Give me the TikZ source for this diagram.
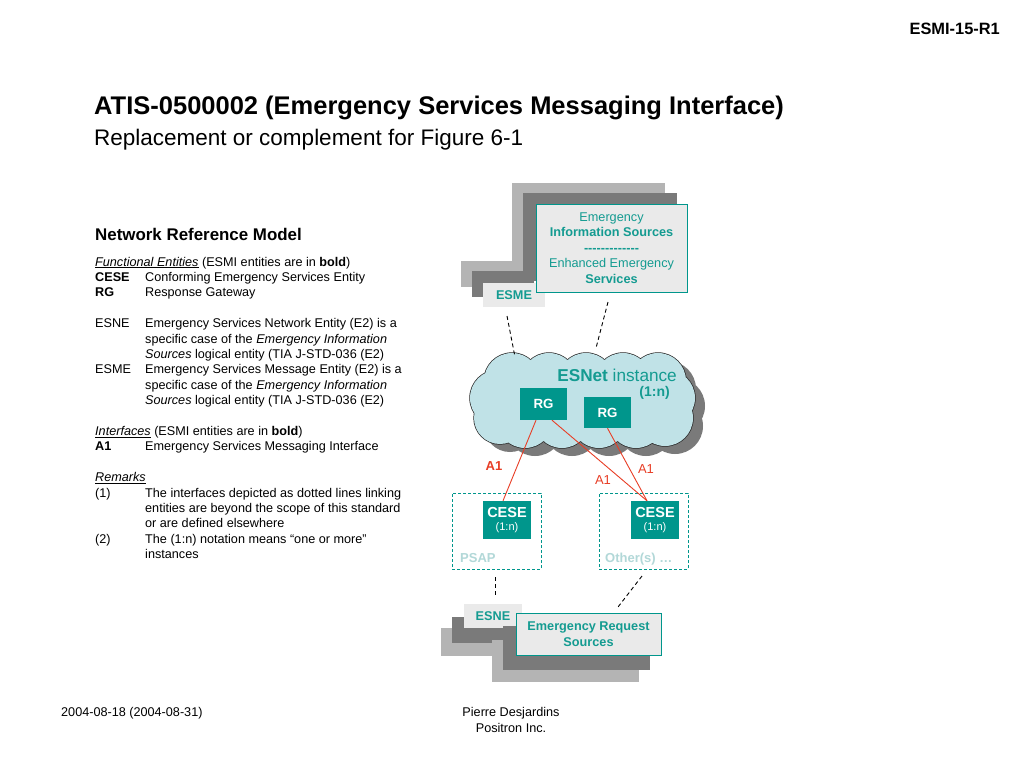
\documentclass[tikz,border=0pt]{standalone}
\usepackage{fontspec}
\setmainfont{Liberation Sans}
\definecolor{esmiteal}{RGB}{0,150,140}
\definecolor{esmitext}{RGB}{20,155,145}
\definecolor{paleteal}{RGB}{178,216,216}
\definecolor{boxgray}{RGB}{234,234,234}
\definecolor{layerlight}{RGB}{180,180,180}
\definecolor{layerdark}{RGB}{122,122,122}
\definecolor{cloudblue}{RGB}{192,226,231}
\definecolor{aonered}{RGB}{232,62,38}
\newcommand{\esmibody}{\fontsize{12.65}{15.4}\selectfont}
\newcommand{\esmibox}{\fontsize{12.7}{15.5}\selectfont}
\newcommand{\sepdashes}{\foreach \i in {1,...,13}{-\kern0pt}}
\newcommand{\esnetcore}{(500,385) rectangle (665,420)}
\newcommand{\esnetpuffs}{%
  \foreach \cx/\cy/\r in {512/381/28,549/381/28,586/381/28,623/381/28,658/381/28,
    498/398/28,500/418/26,525/420/28,562/420/28,599/420/28,636/420/28,665/418/28,667/398/28}
  {(\cx,\cy) circle (\r pt)}}

\begin{document}
\begin{tikzpicture}[x=1pt,y=-1pt,
  box/.style={draw=esmiteal,fill=boxgray,line width=0.9pt,inner sep=0pt,text=esmitext,font=\esmibox,align=center},
  tag/.style={fill=boxgray,inner sep=0pt,text=esmitext,font=\esmibox\bfseries},
  backlayer/.style={fill=layerlight,inner sep=0pt},
  midlayer/.style={fill=layerdark,inner sep=0pt},
  entity/.style={fill=esmiteal,text=white,inner sep=0pt,align=center},
  zonebox/.style={draw=esmiteal,dash pattern=on 3pt off 2pt,line width=0.9pt,inner sep=0pt},
  zonelabel/.style={anchor=base west,inner sep=0pt,text=paleteal,font=\fontsize{13}{15}\selectfont\bfseries},
  aone/.style={draw=aonered,line width=0.9pt},
  aonelabel/.style={text=aonered,inner sep=0pt,font=\fontsize{13}{15}\selectfont},
  outside/.style={dash pattern=on 4pt off 3pt,line width=0.9pt}]
\useasboundingbox[fill=white] (0,0) rectangle (1024,768);

\node[anchor=base east,inner sep=0pt,font=\fontsize{16.4}{19}\selectfont\bfseries] (docid) at (1000,35) {ESMI-15-R1};
\node[anchor=base west,inner sep=0pt,font=\fontsize{25.5}{28}\selectfont\bfseries] (title) at (94,114) {ATIS-0500002 (Emergency Services Messaging Interface)};
\node[anchor=base west,inner sep=0pt,font=\fontsize{22.5}{26}\selectfont] (subtitle) at (94,145) {Replacement or complement for Figure 6-1};

\node[anchor=base west,inner sep=0pt,font=\fontsize{16.9}{20}\selectfont\bfseries] (nrm) at (95,240) {Network Reference Model};
\node[anchor=base west,inner sep=0pt,font=\esmibody] (legend) at (95,266) {%
\begin{tabular}[t]{@{}p{50pt}@{}l@{}}
\multicolumn{2}{@{}l@{}}{\underline{\textit{Functional Entities}} (ESMI entities are in \textbf{bold})}\\
\textbf{CESE} & Conforming Emergency Services Entity\\
\textbf{RG} & Response Gateway\\
 & \\
ESNE & Emergency Services Network Entity (E2) is a\\
 & specific case of the \textit{Emergency Information}\\
 & \textit{Sources} logical entity (TIA J-STD-036 (E2)\\
ESME & Emergency Services Message Entity (E2) is a\\
 & specific case of the \textit{Emergency Information}\\
 & \textit{Sources} logical entity (TIA J-STD-036 (E2)\\
 & \\
\multicolumn{2}{@{}l@{}}{\underline{\textit{Interfaces}} (ESMI entities are in \textbf{bold})}\\
\textbf{A1} & Emergency Services Messaging Interface\\
 & \\
\multicolumn{2}{@{}l@{}}{\underline{\textit{Remarks}}}\\
(1) & The interfaces depicted as dotted lines linking\\
 & entities are beyond the scope of this standard\\
 & or are defined elsewhere\\
(2) & The (1:n) notation means “one or more”\\
 & instances
\end{tabular}};

\node[backlayer,minimum width=62pt,minimum height=26pt] (esme-back) at (492,274) {};
\node[midlayer,minimum width=62pt,minimum height=26pt] (esme-mid) at (503,284) {};
\node[backlayer,minimum width=153pt,minimum height=88pt] (esis-back) at (588.5,227) {};
\node[midlayer,minimum width=154pt,minimum height=88pt] (esis-mid) at (600,237) {};
\node[tag,minimum width=62pt,minimum height=24pt] (esme) at (514,295) {ESME};
\node[box,minimum width=151pt,minimum height=88pt] (esis) at (611.5,248)
  {Emergency\\\textbf{Information Sources}\\\textbf{\sepdashes}\\Enhanced Emergency\\\textbf{Services}};

\fill[layerdark,shift={(10,8)}] \esnetpuffs;
\fill[layerdark,shift={(10,8)}] \esnetcore;
\draw[black!85,line width=1.4pt] \esnetpuffs;
\fill[cloudblue] \esnetpuffs;
\fill[cloudblue] \esnetcore;
\node[anchor=base east,inner sep=0pt,text=esmitext,font=\fontsize{17.2}{20}\selectfont] (esnet) at (677,381) {\textbf{ESNet} instance};
\node[anchor=base east,inner sep=0pt,text=esmitext,font=\fontsize{14}{16}\selectfont\bfseries] (esnet-n) at (670,396) {(1:n)};
\node[entity,minimum width=47pt,minimum height=32pt,font=\fontsize{13.3}{15}\selectfont\bfseries] (rg1) at (543.5,404) {RG};
\node[entity,minimum width=47pt,minimum height=31pt,font=\fontsize{13.3}{15}\selectfont\bfseries] (rg2) at (607.5,412.5) {RG};

\node[zonebox,minimum width=89pt,minimum height=76pt] (psap) at (496.5,531) {};
\node[zonebox,minimum width=89pt,minimum height=76pt] (others) at (643.5,531) {};
\node[zonelabel] (psap-label) at (460,562) {PSAP};
\node[zonelabel] (others-label) at (605,562) {Other(s) …};
\node[entity,minimum width=48pt,minimum height=38pt] (cese1) at (507,520)
  {{\fontsize{14.5}{15}\selectfont\bfseries CESE}\\[1pt]{\fontsize{11}{12}\selectfont(1:n)}};
\node[entity,minimum width=48pt,minimum height=38pt] (cese2) at (655,520)
  {{\fontsize{14.5}{15}\selectfont\bfseries CESE}\\[1pt]{\fontsize{11}{12}\selectfont(1:n)}};

\draw[aone] ([xshift=-7.5pt]rg1.south) -- ([xshift=-4pt]cese1.north);
\draw[aone] ([xshift=8.5pt]rg1.south) -- ([xshift=-8pt]cese2.north);
\draw[aone] (rg2.south) -- ([xshift=-8pt]cese2.north);
\node[aonelabel,font=\fontsize{13}{15}\selectfont\bfseries] (a1-psap) at (494,466) {A1};
\node[aonelabel] (a1-cross) at (603,480) {A1};
\node[aonelabel] (a1-other) at (646,469) {A1};

\node[backlayer,minimum width=60pt,minimum height=28pt] (esne-back) at (471,642) {};
\node[midlayer,minimum width=62pt,minimum height=26pt] (esne-mid) at (483,630) {};
\node[tag,minimum width=58pt,minimum height=24pt] (esne) at (493,616) {ESNE};
\node[backlayer,minimum width=147pt,minimum height=42pt] (ers-back) at (565.5,661) {};
\node[midlayer,minimum width=147pt,minimum height=44pt] (ers-mid) at (576.5,648) {};
\node[box,minimum width=145pt,minimum height=42pt,font=\esmibox\bfseries] (ers) at (588.5,634)
  {Emergency Request\\Sources};

\coordinate (esme-link) at (507,316);
\coordinate (cloud-left) at (515,357);
\coordinate (esis-link) at (608,302);
\coordinate (cloud-right) at (596,348);
\coordinate (psap-link) at (495,577);
\coordinate (esne-link) at (495,597);
\coordinate (others-link) at (642,576);
\coordinate (ers-link) at (618,607);
\draw[outside] (esme-link) -- (cloud-left);
\draw[outside] (esis-link) -- (cloud-right);
\draw[outside] (psap-link) -- (esne-link);
\draw[outside] (others-link) -- (ers-link);

\node[anchor=base west,inner sep=0pt,font=\esmibody] (date) at (61,716) {2004-08-18 (2004-08-31)};
\node[anchor=base,inner sep=0pt,font=\esmibody] (author) at (511,716) {Pierre Desjardins};
\node[anchor=base,inner sep=0pt,font=\esmibody] (company) at (511,732) {Positron Inc.};
\end{tikzpicture}
\end{document}
